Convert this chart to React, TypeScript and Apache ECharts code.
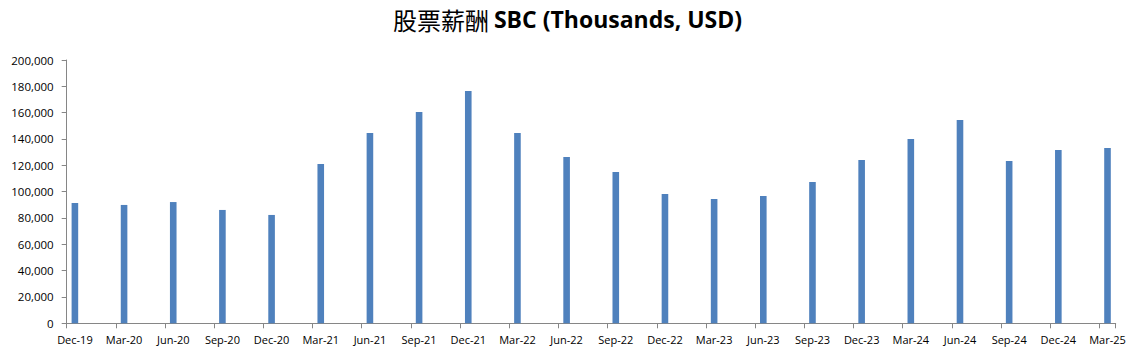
import React, { useEffect, useRef } from "react";
import * as echarts from "echarts";

const quarterLabels = [
  "Dec-19", "Mar-20", "Jun-20", "Sep-20", "Dec-20", "Mar-21", "Jun-21", "Sep-21",
  "Dec-21", "Mar-22", "Jun-22", "Sep-22", "Dec-22", "Mar-23", "Jun-23", "Sep-23",
  "Dec-23", "Mar-24", "Jun-24", "Sep-24", "Dec-24", "Mar-25",
];
const sbcValues = [
  91400, 89900, 92100, 86100, 82300, 121000, 144500, 160500,
  176400, 144500, 126300, 114900, 98200, 94400, 96700, 107300,
  124000, 140000, 154400, 123300, 131600, 133200,
];
const yTicks = { min: 0, max: 200000, interval: 20000 };
const titleCn = "股票薪酬";
const titleEn = "SBC (Thousands, USD)";

// Monthly date axis (Excel style): each quarter label is followed by two unlabeled months
const monthNames = ["Jan", "Feb", "Mar", "Apr", "May", "Jun", "Jul", "Aug", "Sep", "Oct", "Nov", "Dec"];
function buildMonths(): string[] {
  const out: string[] = [];
  let m = 11, y = 19; // Dec-19
  const total = (quarterLabels.length - 1) * 3 + 1;
  for (let i = 0; i < total; i++) {
    out.push(`${monthNames[m]}-${String(y).padStart(2, "0")}`);
    m++;
    if (m > 11) { m = 0; y++; }
  }
  return out;
}

export default function App() {
  const ref = useRef<HTMLDivElement>(null);
  useEffect(() => {
    if (!ref.current) return;
    const chart = echarts.init(ref.current, null, { renderer: "svg" });
    const months = buildMonths();
    const data: (number | null)[] = months.map(() => null);
    quarterLabels.forEach((q, i) => {
      const idx = months.indexOf(q);
      if (idx >= 0) data[idx] = sbcValues[i];
    });
    const font = "Open Sans, Liberation Sans, sans-serif";
    chart.setOption({
      animation: false,
      backgroundColor: "#ffffff",
      title: {
        text: `{cn|${titleCn}} {en|${titleEn}}`,
        left: "center",
        top: 2,
        textStyle: {
          rich: {
            cn: { fontFamily: "Noto Sans CJK SC", fontSize: 24, fontWeight: "normal", color: "#000" },
            en: { fontFamily: font, fontSize: 23, fontWeight: "bold", color: "#000" },
          },
        },
      },
      grid: { left: 66.7, right: 19.3, top: 60, bottom: 35.7, containLabel: false },
      xAxis: {
        type: "category",
        data: months,
        boundaryGap: true,
        axisLine: { lineStyle: { color: "#868686", width: 1 } },
        axisTick: { show: true, interval: 2, length: 5, lineStyle: { color: "#868686" } },
        axisLabel: { interval: 2, color: "#000", fontSize: 11, fontFamily: font, margin: 11 },
        splitLine: { show: false },
      },
      yAxis: {
        type: "value",
        min: yTicks.min,
        max: yTicks.max,
        interval: yTicks.interval,
        axisLine: { show: true, lineStyle: { color: "#868686", width: 1 } },
        axisTick: { show: true, length: 5, lineStyle: { color: "#868686" } },
        axisLabel: {
          color: "#000",
          fontSize: 11.5,
          fontFamily: font,
          margin: 13,
          formatter: (v: number) => v.toLocaleString("en-US"),
        },
        splitLine: { show: false },
      },
      series: [
        {
          type: "bar",
          data,
          barWidth: 6.6,
          itemStyle: { color: "#4F81BD" },
        },
      ],
    });
    return () => chart.dispose();
  }, []);
  return (
    <div
      ref={ref}
      style={{ position: "fixed", left: 0, top: 0, width: 1135, height: 359, background: "#fff" }}
    />
  );
}
